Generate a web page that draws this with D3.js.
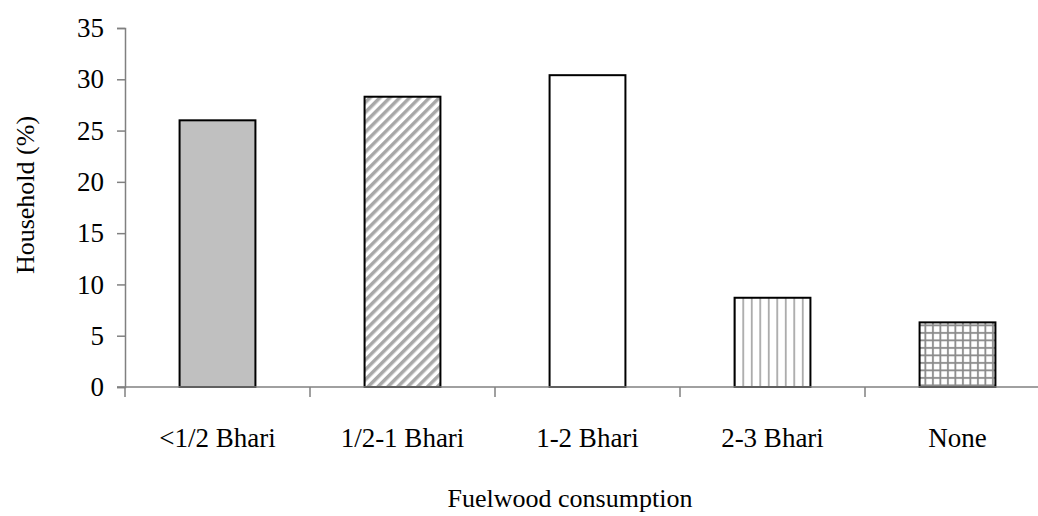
<!DOCTYPE html>
<html>
<head>
<meta charset="utf-8">
<script src="https://cdn.jsdelivr.net/npm/d3@7"></script>
<style>
  body { margin: 0; background: #fff; }
  text { font-family: "Liberation Serif", "Times New Roman", serif; fill: #000; }
</style>
</head>
<body>
<div id="chart"></div>
<script>
const width = 1038,
  height = 516,
  margin = { top: 28, right: -12, bottom: 129, left: 125 };

const categories = ['<1/2 Bhari', '1/2-1 Bhari', '1-2 Bhari', '2-3 Bhari', 'None'];
const households = [26.0, 28.3, 30.4, 8.7, 6.3];
const patterns = ['solid', 'diag', 'none', 'vert', 'grid'];
const yTicks = [0, 5, 10, 15, 20, 25, 30, 35];

const data = categories.map((c, i) => ({ cat: c, value: households[i], pattern: patterns[i] }));

const svg = d3.select('#chart')
  .append('svg')
  .attr('width', width)
  .attr('height', height);

const defs = svg.append('defs');

// diagonal stripes
const diag = defs.append('pattern')
  .attr('id', 'p-diag')
  .attr('patternUnits', 'userSpaceOnUse')
  .attr('width', 7).attr('height', 7)
  .attr('patternTransform', 'rotate(45)');
diag.append('rect').attr('width', 7).attr('height', 7).attr('fill', '#fff');
diag.append('rect').attr('width', 3.5).attr('height', 7).attr('fill', '#a8a8a8');

// vertical lines
const vert = defs.append('pattern')
  .attr('id', 'p-vert')
  .attr('patternUnits', 'userSpaceOnUse')
  .attr('width', 8.5).attr('height', 10);
vert.append('rect').attr('width', 8.5).attr('height', 10).attr('fill', '#fff');
vert.append('rect').attr('x', 3).attr('width', 1.5).attr('height', 10).attr('fill', '#9a9a9a');

// grid
const grid = defs.append('pattern')
  .attr('id', 'p-grid')
  .attr('patternUnits', 'userSpaceOnUse')
  .attr('width', 7.5).attr('height', 7.5);
grid.append('rect').attr('width', 7.5).attr('height', 7.5).attr('fill', '#fff');
grid.append('rect').attr('x', 2).attr('width', 1.8).attr('height', 7.5).attr('fill', '#8a8a8a');
grid.append('rect').attr('y', 2).attr('width', 7.5).attr('height', 1.8).attr('fill', '#8a8a8a');

const fills = { solid: '#c0c0c0', diag: 'url(#p-diag)', none: '#fff', vert: 'url(#p-vert)', grid: 'url(#p-grid)' };

const x = d3.scaleBand()
  .domain(categories)
  .range([margin.left, margin.left + 185 * categories.length])
  .paddingInner(0.59)
  .paddingOuter(0.295);

const y = d3.scaleLinear()
  .domain([0, 35])
  .range([height - margin.bottom, margin.top]);

// bars
svg.append('g')
  .selectAll('rect')
  .data(data)
  .enter().append('rect')
    .attr('x', d => x(d.cat))
    .attr('y', d => y(d.value))
    .attr('width', x.bandwidth())
    .attr('height', d => y(0) - y(d.value))
    .attr('fill', d => fills[d.pattern])
    .attr('stroke', '#000')
    .attr('stroke-width', 2);

// y axis
const yAxis = svg.append('g')
  .attr('transform', `translate(${margin.left},0)`)
  .call(d3.axisLeft(y).tickValues(yTicks).tickSize(8).tickPadding(13));
yAxis.select('.domain').attr('stroke', '#808080').attr('stroke-width', 1.5);
yAxis.selectAll('.tick line').attr('stroke', '#808080').attr('stroke-width', 1.5);
yAxis.selectAll('.tick text')
  .style('font-family', '"Liberation Serif", serif')
  .style('font-size', '27px')
  .attr('fill', '#000');

// x axis line with ticks at category boundaries
const xg = svg.append('g');
xg.append('line')
  .attr('x1', margin.left - 8).attr('x2', width)
  .attr('y1', y(0)).attr('y2', y(0))
  .attr('stroke', '#808080').attr('stroke-width', 1.5);
const bounds = d3.range(categories.length).map(i => x(categories[i]) - x.step() * x.paddingOuter());
xg.selectAll('line.tick')
  .data(bounds)
  .enter().append('line')
    .attr('class', 'tick')
    .attr('x1', d => d).attr('x2', d => d)
    .attr('y1', y(0)).attr('y2', y(0) + 10)
    .attr('stroke', '#808080').attr('stroke-width', 1.5);
xg.selectAll('text')
  .data(categories)
  .enter().append('text')
    .attr('x', d => x(d) + x.bandwidth() / 2)
    .attr('y', 447)
    .attr('text-anchor', 'middle')
    .style('font-size', '27px')
    .text(d => d);

// axis titles
svg.append('text')
  .attr('x', 570)
  .attr('y', 507)
  .attr('text-anchor', 'middle')
  .style('font-size', '26px')
  .text('Fuelwood consumption');

svg.append('text')
  .attr('transform', 'translate(34,195) rotate(-90)')
  .attr('text-anchor', 'middle')
  .style('font-size', '26px')
  .text('Household (%)');
</script>
</body>
</html>
